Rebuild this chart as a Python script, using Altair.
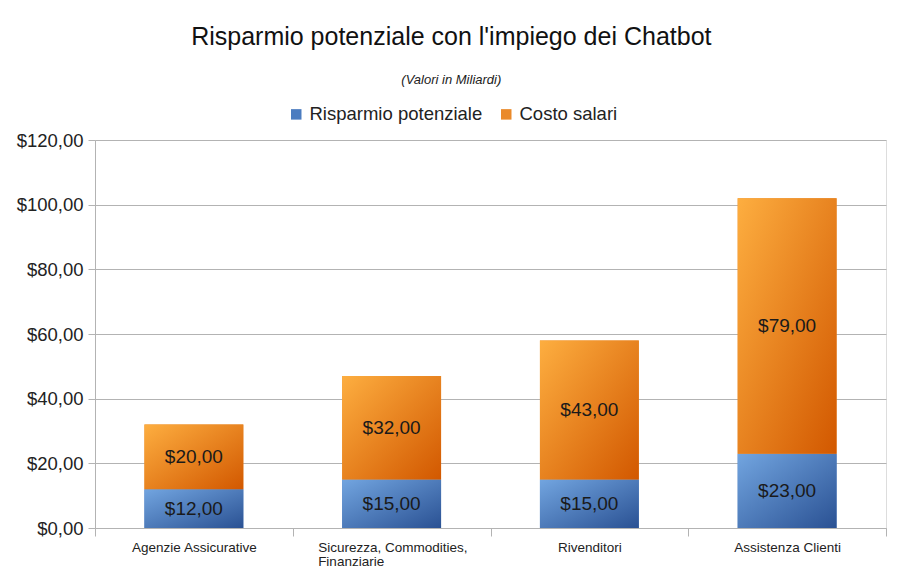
import altair as alt
import pandas as pd

categories = ["Agenzie Assicurative", "Sicurezza, Commodities, Finanziarie", "Rivenditori", "Assistenza Clienti"]
risparmio = [12, 15, 15, 23]
costo = [20, 32, 43, 79]
series_names = ["Risparmio potenziale", "Costo salari"]
y_ticks = [0, 20, 40, 60, 80, 100, 120]

rows = []
for c, r, k in zip(categories, risparmio, costo):
    rows.append({"category": c, "series": series_names[0], "value": r, "ord": 0})
    rows.append({"category": c, "series": series_names[1], "value": k, "ord": 1})
df = pd.DataFrame(rows)

FONT = "Liberation Sans"
GRID = "#b3b3b3"
W = 791
H = 388
LONG = "datum.value == 'Sicurezza, Commodities, Finanziarie'"

grad_blue = alt.Gradient(
    gradient="linear",
    stops=[alt.GradientStop(color="#72a5e0", offset=0), alt.GradientStop(color="#2a5193", offset=1)],
    x1=0, y1=0, x2=1, y2=1,
)
grad_orange = alt.Gradient(
    gradient="linear",
    stops=[alt.GradientStop(color="#fdae40", offset=0), alt.GradientStop(color="#d25800", offset=1)],
    x1=0, y1=0, x2=1, y2=1,
)

base = alt.Chart(df).transform_stack(
    stack="value", groupby=["category"], as_=["y0", "y1"], sort=[alt.SortField("ord")]
).transform_calculate(
    mid="(datum.y0 + datum.y1) / 2",
    label="'$' + replace(format(datum.value, '.2f'), '.', ',')",
)

x_scale = alt.Scale(paddingInner=0, paddingOuter=0)
x_enc = alt.X(
    "category:N",
    sort=categories,
    title=None,
    scale=x_scale,
    axis=alt.Axis(
        labelAngle=0,
        labelFont=FONT,
        labelFontSize=13.5,
        labelColor="#222222",
        labelExpr=LONG + " ? ['Sicurezza, Commodities,', 'Finanziarie'] : datum.value",
        labelAlign={"condition": {"test": LONG, "value": "left"}, "value": "center"},
        labelOffset={"condition": {"test": LONG, "value": -74}, "value": 0},
        labelLineHeight=14,
        tickBand="extent",
        labelPadding=4,
        tickSize=8,
        tickColor=GRID,
        domainColor=GRID,
        grid=False,
        labelBound=False,
        labelOverlap=False,
    ),
)
y_scale = alt.Scale(domain=[0, 120])
y_axis = alt.Axis(
    values=y_ticks,
    labelExpr="'$' + replace(format(datum.value, '.2f'), '.', ',')",
    labelFont=FONT,
    labelFontSize=18.5,
    labelColor="#222222",
    labelPadding=5,
    tickSize=7,
    tickColor=GRID,
    domainColor=GRID,
    gridColor=GRID,
    title=None,
)

bar_w = alt.RelativeBandSize(0.5)

solid = base.mark_bar(width=bar_w).encode(
    x=x_enc,
    y=alt.Y("y0:Q", scale=y_scale, axis=y_axis),
    y2="y1:Q",
    color=alt.Color(
        "series:N",
        scale=alt.Scale(domain=series_names, range=["#4b7cc0", "#ea8a2a"]),
        legend=alt.Legend(
            title=None,
            orient="none",
            direction="horizontal",
            legendX=192,
            legendY=-35,
            symbolType="square",
            symbolSize=110,
            symbolStrokeWidth=0,
            labelFont=FONT,
            labelFontSize=18.5,
            labelColor="#222222",
            labelLimit=400,
            columnPadding=14,
            symbolOffset=0,
            labelOffset=4,
        ),
    ),
)

grad = base.mark_bar(width=bar_w).encode(
    x=alt.X("category:N", sort=categories),
    y="y0:Q",
    y2="y1:Q",
    color=alt.condition(
        "datum.series == 'Risparmio potenziale'", alt.value(grad_blue), alt.value(grad_orange)
    ),
)

text = base.mark_text(font=FONT, fontSize=19, color="#1a1a1a").encode(
    x=alt.X("category:N", sort=categories),
    y="mid:Q",
    text="label:N",
)

chart = alt.layer(solid, grad, text).properties(
    width=W,
    height=H,
    padding={"left": 8, "top": 17, "right": 5, "bottom": 0},
    title=alt.TitleParams(
        text="Risparmio potenziale con l'impiego dei Chatbot",
        subtitle="(Valori in Miliardi)",
        font=FONT,
        fontSize=25,
        fontWeight="normal",
        color="#111111",
        subtitleFont=FONT,
        subtitleFontSize=13,
        subtitleFontStyle="italic",
        subtitleColor="#222222",
        subtitlePadding=24,
        anchor="middle",
        frame="bounds",
        offset=18,
    ),
).configure_view(
    fill="#ececec", stroke=GRID
).configure(background="white")

chart.save("out.html", embed_options={"renderer": "svg", "actions": False})
